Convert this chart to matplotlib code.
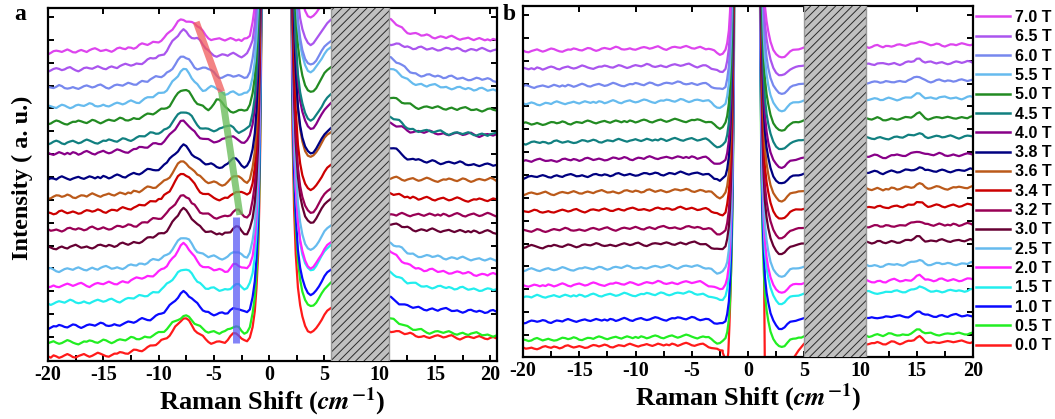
import numpy as np
import matplotlib.pyplot as plt
from matplotlib.lines import Line2D
from matplotlib.ticker import MultipleLocator
from matplotlib.font_manager import FontProperties

plt.rcParams['font.family'] = ['Liberation Serif', 'DejaVu Serif']
plt.rcParams['font.weight'] = 'bold'
plt.rcParams['axes.labelweight'] = 'bold'
plt.rcParams['mathtext.fontset'] = 'stix'
plt.rcParams['axes.unicode_minus'] = False
plt.rcParams['hatch.linewidth'] = 0.7

# field labels and colours, low field first
fields = ['0.0 T', '0.5 T', '1.0 T', '1.5 T', '2.0 T', '2.5 T', '3.0 T', '3.2 T', '3.4 T',
          '3.6 T', '3.8 T', '4.0 T', '4.5 T', '5.0 T', '5.5 T', '6.0 T', '6.5 T', '7.0 T']
colors = ['#ff1a1a', '#22ee22', '#0a0aff', '#22eeee', '#ff22ff', '#66bbee', '#660033', '#990055',
          '#cc0000', '#bb5a1a', '#000080', '#880088', '#118080', '#228b22', '#66bbee', '#7788ee',
          '#aa55ee', '#dd44ee']

# ---- panel a: read-off levels ----
offset_a = [-0.87, -0.26, 0.44, 1.49, 2.23, 2.93, 3.89, 4.68, 5.42, 6.12, 6.91, 8.0, 8.49,
            9.36, 10.06, 10.89, 11.68, 12.47]
peak_a = [1.7, 1.22, 1.53, 1.53, 1.8, 1.4, 1.66, 1.5, 1.75, 1.57, 1.44, 1.4, 1.36, 1.45,
          1.6, 1.36, 1.75, 1.45]
mode_x = [-3.1, -3.0, -3.0, -3.0, -3.0, -3.0, -3.0, -3.0, -2.8, -3.0, -3.2, -3.5, -3.8,
          -4.5, -5.0, -5.6, -6.2, -6.6]
mode_h = [0.45, 0.3, 0.3, 0.25, 0.3, 0.3, 0.3, 0.3, 0.35, 0.35, 0.4, 0.35, 0.3, 0.45, 0.25,
          0.3, 0.3, 0.25]
rc_min = [1.05, 1.57, 1.4, 1.44, 0.8, 0.87, 1.1, 0.75, 1.0, 1.75, 1.14, 1.13, 1.0, 1.36,
          1.53, 1.0, 1.1, 1.5]
r_start = [1.18, 1.14, 1.27, 1.36, 1.57, 1.22, 1.09, 0.66, 0.87, 0.83, 1.4, 1.36, 1.14,
           1.14, 1.75, 1.36, 1.18, 1.4]
r_end = [0.83, 0.35, 0.66, 0.57, 0.48, 0.44, 0.7, 0.66, 0.57, 0.74, 0.61, 0.83, 0.35, 0.57,
         0.74, 0.35, 0.87, 0.52]

# spectral shape, panel a (x = -20 ... -1.75, step 0.25)
base_a = [0.00, 0.00, 0.01, 0.01, 0.02, 0.02, 0.02, 0.03, 0.03, 0.03, 0.04, 0.04, 0.04, 0.05,
          0.05, 0.05, 0.06,
          0.06, 0.07, 0.07, 0.08, 0.08, 0.09, 0.09, 0.10, 0.11, 0.12, 0.13, 0.14,
          0.16, 0.18, 0.20, 0.22, 0.25, 0.28, 0.31, 0.34, 0.37, 0.40, 0.44, 0.48,
          0.53, 0.60, 0.70, 0.82, 0.96, 1.10, 1.24, 1.36, 1.42, 1.38, 1.28, 1.14, 1.00, 0.88,
          0.78, 0.70,
          0.64, 0.60, 0.57, 0.55, 0.54, 0.53, 0.53, 0.53, 0.53, 0.53, 0.53, 0.52, 0.51, 0.50,
          0.52, 0.58, 0.75]
bump = [0.15, 0.45, 0.85, 1.0, 0.85, 0.45, 0.15]
wing_a_x = [-1.5, -1.3, -1.15, -1.0, -0.9, -0.8, -0.7, -0.6]
wing_a_y = [1.3, 2.0, 3.0, 4.5, 6.5, 9.5, 14.0, 20.0]
rc_a_x = [1.9, 2.0, 2.1, 2.25, 2.4, 2.6, 2.8, 3.0, 3.25, 3.5, 3.75, 4.0, 4.25, 4.5, 4.75,
          5.0, 5.25, 5.6]
rc_a_y = [30, 15, 9, 5.5, 3.5, 2.0, 1.2, 0.7, 0.3, 0.08, 0.0, 0.05, 0.2, 0.4, 0.6, 0.8,
          0.95, 1.1]
r_shape = [1.0, 0.95, 0.88, 0.8, 0.7, 0.6, 0.5, 0.42, 0.36, 0.32, 0.28, 0.25, 0.23, 0.21,
           0.2, 0.19, 0.18, 0.17, 0.16, 0.15, 0.14, 0.13, 0.12, 0.11, 0.1, 0.09, 0.08, 0.07,
           0.06, 0.06, 0.05, 0.04, 0.04, 0.03, 0.02, 0.02, 0.01, 0.01, 0.0, 0.0]

# guide bands drawn on panel a
band_red_x, band_red_y = [-6.6, -4.3], [13.78, 10.72]
band_green_x, band_green_y = [-4.3, -2.65], [10.72, 5.34]
band_blue_x, band_blue_y = [-3.0, -3.0], [5.25, -0.26]

# ---- panel b ----
offset_b = [-0.57, -0.22, 0.57, 1.66, 2.14, 2.84, 3.85, 4.55, 5.38, 6.17, 6.91, 7.61, 8.40,
            9.23, 10.10, 10.85, 11.64, 12.42]
base_b = [0.00, 0.00, 0.01, 0.01, 0.01, 0.02, 0.02, 0.02, 0.03, 0.03, 0.03, 0.04, 0.04, 0.04,
          0.05, 0.05, 0.05,
          0.05, 0.06, 0.06, 0.06, 0.07, 0.07, 0.07, 0.08, 0.08, 0.08, 0.08, 0.09, 0.09, 0.09,
          0.09, 0.10,
          0.10, 0.10, 0.10, 0.11, 0.11, 0.11, 0.11, 0.12, 0.12, 0.12, 0.12, 0.13, 0.13, 0.13,
          0.13, 0.14,
          0.14, 0.14, 0.14, 0.15, 0.15, 0.15, 0.15, 0.16, 0.16, 0.16, 0.16, 0.16, 0.16, 0.15,
          0.15, 0.14,
          0.12, 0.08, 0.02, -0.05, -0.11, -0.14, -0.10, 0.05]
wing_b_x = [-1.85, -1.7, -1.6, -1.5, -1.4, -1.32, -1.25, -1.2]
wing_b_y = [0.35, 0.9, 1.7, 3.0, 5.0, 8.0, 12.0, 18.0]
rc_b_x = [1.0, 1.1, 1.2, 1.3, 1.4, 1.5, 1.65, 1.8, 2.0, 2.25, 2.5, 2.75, 3.0, 3.25, 3.5,
          3.75, 4.0, 4.25, 4.5, 4.75, 5.0]
rc_b_y = [20, 12, 7, 4.5, 3.0, 2.0, 1.3, 0.85, 0.4, 0.05, -0.15, -0.28, -0.3, -0.25, -0.12,
          0.0, 0.05, 0.08, 0.1, 0.12, 0.15]
r_b = [0.22, 0.2, 0.2, 0.21, 0.22, 0.2, 0.18, 0.2, 0.22, 0.24, 0.25, 0.24, 0.23, 0.24, 0.26,
       0.28, 0.3, 0.35, 0.42, 0.45, 0.38, 0.3, 0.27, 0.26, 0.26, 0.27, 0.28, 0.27, 0.26, 0.26,
       0.27, 0.28, 0.28, 0.27, 0.27, 0.28, 0.29, 0.3, 0.3]
# 0 T trace dips below the notch in panel b
red_wing_b_x = [-2.25, -2.0, -1.85, -1.75, -1.65, -1.55, -1.45, -1.35, -1.28, -1.2]
red_wing_b_y = [-0.2, -0.5, -0.6, -0.2, 1.0, 2.5, 4.5, 8.0, 12.0, 18.0]
red_rc_b_x = [1.3, 1.4, 1.45, 1.5, 1.6, 2.0, 3.0, 3.6, 3.9, 4.1, 4.5, 5.0]
red_rc_b_y = [20, 8, 2, -1, -3, -3.5, -3.5, -3, -1.2, -0.4, -0.1, 0.2]

# hand-read noise on the traces
jitter = [0.2, -0.3, 0.5, 0.1, -0.6, -0.2, 0.4, 0.8, 0.3, -0.4, -0.7, -0.1, 0.3, 0.6, 0.0,
          -0.5, -0.2, 0.4, 0.9, 0.5, -0.1, -0.6, -0.9, -0.3, 0.2, 0.1, 0.6, 0.3, -0.2, -0.5,
          0.1, 0.7, 0.4, -0.3, -0.8, -0.4, 0.2, 0.5, 0.2, -0.1, 0.4, 1.0, 0.6, -0.2, -0.5,
          -0.3, 0.1, -0.4, -0.7, -0.2, 0.3, 0.6, 0.2, -0.3, 0.0, 0.5, 0.8, 0.1, -0.6, -1.0,
          -0.4, 0.2, 0.4, 0.1, -0.2, 0.3, 0.7, 0.2, -0.4, -0.6, 0.0, 0.4, -0.1, -0.5, 0.2,
          0.6, 0.9, 0.3, -0.3, -0.2, 0.1, -0.4, -0.8, -0.3, 0.4, 0.6, 0.1, -0.2, 0.3, 0.0,
          -0.6, -0.3, 0.5, 0.8, 0.2, -0.4, -0.1, 0.3, -0.2, -0.7, -0.5, 0.1, 0.6, 0.4, -0.1,
          0.2, 0.7, 0.3, -0.5, -0.8, -0.2, 0.3, 0.1, -0.3, 0.4, 0.9, 0.4, -0.2, -0.6, -0.1,
          0.2, 0.5, 0.0, -0.4, 0.1, 0.6, 0.2, -0.3]


def noise(n, k, amp):
    return amp * np.take(jitter, np.arange(n) + 11 * k, mode='wrap')


def style_axes(ax, ylo):
    ax.set_ylim(ylo, 14.39)
    ax.set_yticks(range(0, 15))
    ax.xaxis.set_major_locator(MultipleLocator(5))
    ax.xaxis.set_minor_locator(MultipleLocator(2.5))
    ax.tick_params(which='both', direction='in', length=4.5, width=1.4, top=True, right=True,
                   labelleft=False, labelsize=14.5, pad=3)
    ax.tick_params(which='minor', top=False, right=False)
    for s in ax.spines.values():
        s.set_linewidth(1.6)
    ax.set_xlabel(r'Raman Shift ($cm^{-1}$)', fontsize=19, fontweight='bold', labelpad=0)


fig = plt.figure(figsize=(10.55, 4.19), dpi=100)
ax_a = fig.add_axes([48 / 1055, 58 / 419, 449 / 1055, 353 / 419])
ax_b = fig.add_axes([523 / 1055, 62 / 419, 450 / 1055, 351 / 419])

xl_a = np.arange(-20, -1.74, 0.25)
xr_a = np.arange(10.75, 20.6, 0.25)
for i in range(len(fields)):
    left = peak_a[i] / 1.42 * np.array(base_a)
    j = int(round((mode_x[i] + 20) / 0.25))
    left[j - 3:j + 4] += mode_h[i] * np.array(bump)
    left += noise(len(xl_a), i, 0.11)
    rc = np.array(rc_a_y) + rc_min[i] + noise(len(rc_a_x), i + 5, 0.05)
    right = r_end[i] + (r_start[i] - r_end[i]) * np.array(r_shape) + noise(len(xr_a), i + 3, 0.1)
    x = np.concatenate([xl_a, wing_a_x, rc_a_x, xr_a])
    y = offset_a[i] + np.concatenate([left, wing_a_y, rc, right])
    ax_a.plot(x, y, color=colors[i], lw=1.6, zorder=2)

ax_a.plot(band_red_x, band_red_y, color='#f05a5a', alpha=0.75, lw=5, solid_capstyle='butt', zorder=4)
ax_a.plot(band_green_x, band_green_y, color='#6cbd5c', alpha=0.8, lw=5, solid_capstyle='butt', zorder=4)
ax_a.plot(band_blue_x, band_blue_y, color='#5a5af5', alpha=0.75, lw=5, solid_capstyle='butt', zorder=4)

xl_b = np.arange(-20, -1.99, 0.25)
xr_b = np.arange(10.5, 20.01, 0.25)
for i in range(len(fields)):
    left = np.array(base_b) + noise(len(xl_b), i + 7, 0.09)
    right = np.array(r_b) + noise(len(xr_b), i + 2, 0.08)
    if i == 0:
        x = np.concatenate([xl_b[:-1], red_wing_b_x, red_rc_b_x, xr_b])
        y = np.concatenate([left[:-1], red_wing_b_y, red_rc_b_y, right])
    else:
        rc = np.array(rc_b_y) + noise(len(rc_b_x), i + 9, 0.04)
        x = np.concatenate([xl_b, wing_b_x, rc_b_x, xr_b])
        y = np.concatenate([left, wing_b_y, rc, right])
    ax_b.plot(x, offset_b[i] + y, color=colors[i], lw=1.6, zorder=2)

# blocked region
for ax, lo, hi in [(ax_a, 5.6, 10.8), (ax_b, 5.0, 10.45)]:
    ax.axvspan(lo, hi, facecolor='#c0c0c0', edgecolor='#2a2a2a', hatch='////', lw=0, zorder=3)
    ax.axvline(lo, color='#999999', lw=1.0, zorder=3)
    ax.axvline(hi, color='#999999', lw=1.0, zorder=3)

ax_a.set_xlim(-20, 20.6)
ax_b.set_xlim(-20, 20)
style_axes(ax_a, -1.05)
style_axes(ax_b, -0.96)

fig.text(20 / 1055, 1 - 14 / 419, 'a', fontsize=17, weight='bold', ha='center', va='center')
fig.text(509 / 1055, 1 - 14 / 419, 'b', fontsize=17, weight='bold', ha='center', va='center')
fig.text(22 / 1055, 1 - 178 / 419, 'Intensity ( a. u.)', fontsize=17.5, weight='bold',
         rotation=90, ha='center', va='center')

handles = [Line2D([], [], color=c, lw=1.8) for c in colors[::-1]]
fig.legend(handles, fields[::-1], loc='upper left', bbox_to_anchor=(976 / 1055, 1 - 10 / 419),
           frameon=False, prop=FontProperties(family='Liberation Sans', weight='bold', size=11.5),
           handlelength=2.1, handletextpad=0.35, labelspacing=0.27, borderpad=0,
           borderaxespad=0)

fig.savefig('out.png', dpi=100)
